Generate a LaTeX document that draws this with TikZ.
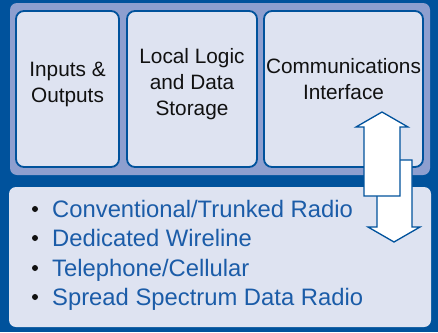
\documentclass[tikz,border=0pt]{standalone}
\usepackage{fontspec}
\setmainfont{Liberation Sans}
\definecolor{darkb}{HTML}{00529C}
\definecolor{panelb}{HTML}{8E9FCF}
\definecolor{lightb}{HTML}{DEE3F1}
\definecolor{textb}{HTML}{1B5CA8}
\definecolor{ink}{HTML}{111111}
\begin{document}
\begin{tikzpicture}[x=1pt,y=-1pt,
  innerbox/.style={draw=darkb,line width=1.8pt,fill=lightb,rounded corners=8pt},
  boxtext/.style={align=center,text=ink,font=\fontsize{20.8}{26}\selectfont,inner sep=0pt},
  listtext/.style={anchor=base west,text=textb,font=\fontsize{23.8}{28}\selectfont,inner sep=0pt},
  bulletdot/.style={fill=ink,circle,inner sep=0pt,minimum size=6pt},
  blockarrow/.style={draw=darkb,line width=1.3pt,fill=white,line join=miter}]
\useasboundingbox (0,0) rectangle (438,332);
\fill[darkb] (0,0) rectangle (438,332);
% top panel
\fill[panelb,rounded corners=7pt] (10,3) rectangle (430,175);
% inner boxes
\draw[innerbox] (16,11) rectangle (119,167);
\draw[innerbox] (127,11) rectangle (257,167);
\draw[innerbox] (264,11) rectangle (423,167);
\node[boxtext] (io) at (67.5,84) {Inputs \&\\Outputs};
\node[boxtext] (logic) at (192,84) {Local Logic\\and Data\\Storage};
\node[boxtext] (comm) at (343.5,79) {Communications\\Interface};
% bottom panel
\fill[lightb,rounded corners=7pt] (9,187) rectangle (431,327);
% list
\node[listtext] (l1) at (52,217) {Conventional/Trunked Radio};
\node[listtext] (l2) at (52,246) {Dedicated Wireline};
\node[listtext] (l3) at (52,276) {Telephone/Cellular};
\node[listtext] (l4) at (52,305) {Spread Spectrum Data Radio};
\node[bulletdot] (b1) at (35,209) {};
\node[bulletdot] (b2) at (35,238) {};
\node[bulletdot] (b3) at (35,268) {};
\node[bulletdot] (b4) at (35,297) {};
% arrows
\draw[blockarrow] (377,160) -- (412,160) -- (412,227) -- (420,227) -- (394,242) -- (368,227) -- (377,227) -- cycle;
\draw[blockarrow] (364,196) -- (364,127) -- (356,127) -- (382,112) -- (408,127) -- (400,127) -- (400,196) -- cycle;
\end{tikzpicture}
\end{document}
